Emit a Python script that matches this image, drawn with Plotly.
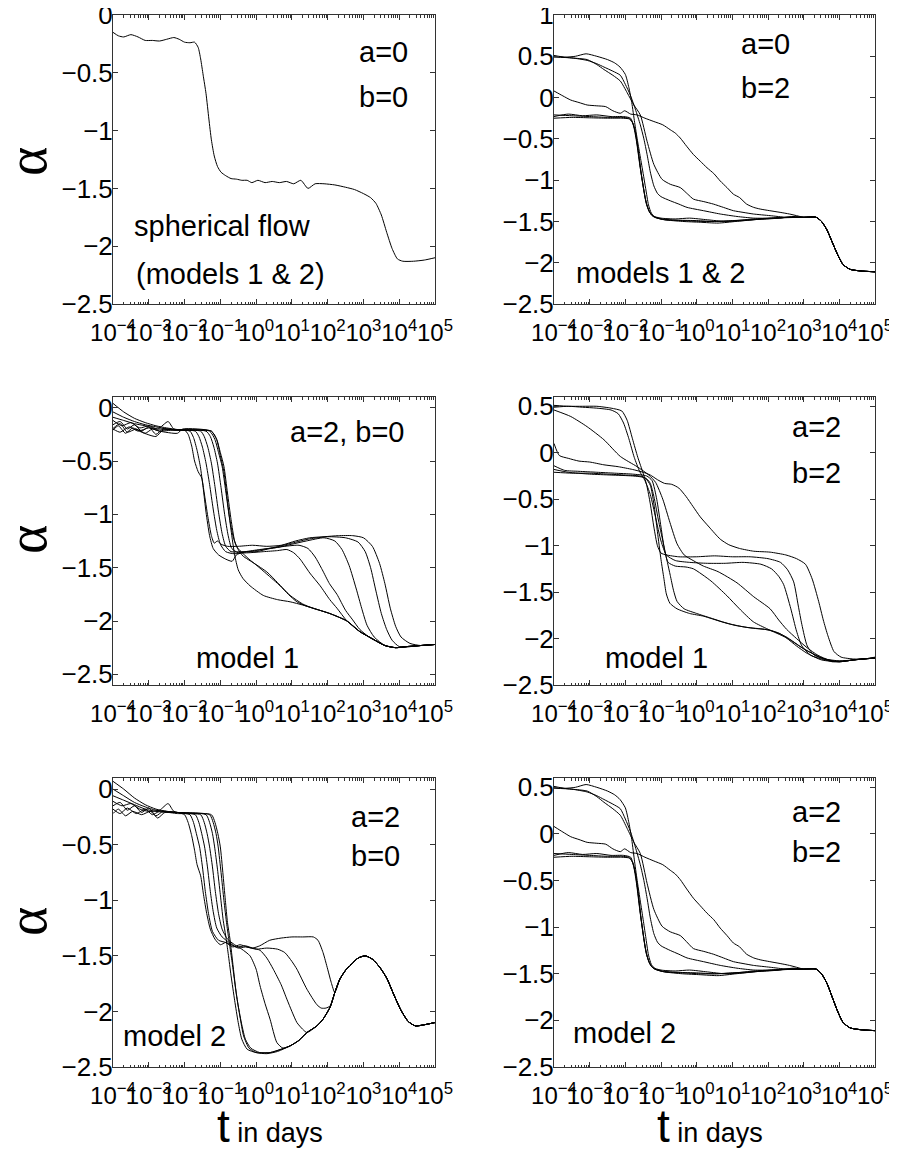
import plotly.graph_objects as go
from plotly.subplots import make_subplots

# ---------------- data: (log10 t, alpha) pairs ----------------
# Panel 1: a=0, b=0 (spherical flow)
p1_c1 = [(-4.0,-0.15),(-3.85,-0.18),(-3.7,-0.19),(-3.5,-0.17),(-3.3,-0.19),(-3.1,-0.22),(-2.9,-0.22),
         (-2.7,-0.225),(-2.5,-0.21),(-2.3,-0.195),(-2.15,-0.21),(-2.0,-0.235),(-1.85,-0.24),(-1.72,-0.235),
         (-1.62,-0.28),(-1.55,-0.38),(-1.48,-0.52),(-1.4,-0.68),(-1.32,-0.9),(-1.25,-1.08),(-1.17,-1.22),
         (-1.08,-1.31),(-0.98,-1.36),(-0.85,-1.39),(-0.7,-1.415),(-0.55,-1.42),(-0.4,-1.43),(-0.25,-1.43),
         (-0.12,-1.45),(0.05,-1.43),(0.25,-1.45),(0.45,-1.44),(0.65,-1.45),(0.85,-1.44),(1.05,-1.46),
         (1.25,-1.43),(1.45,-1.5),(1.65,-1.46),(1.9,-1.46),(2.2,-1.47),(2.5,-1.49),(2.75,-1.51),(3.0,-1.545),
         (3.2,-1.58),(3.35,-1.63),(3.5,-1.73),(3.65,-1.88),(3.8,-2.02),(3.95,-2.11),(4.1,-2.13),(4.4,-2.13),
         (4.7,-2.12),(5.0,-2.1)]

# Panel 2 (and panel 6): a=0 / a=2, b=2
p2_tail = [(3.0,-1.45),(3.35,-1.45),(3.5,-1.5),(3.65,-1.6),(3.8,-1.75),(3.95,-1.9),(4.1,-2.02),
           (4.3,-2.08),(4.6,-2.1),(5.0,-2.11)]
p2_b1 = [(-4.0,-0.21),(-3.5,-0.22),(-3.0,-0.23),(-2.5,-0.24),(-2.1,-0.24),(-1.9,-0.25),(-1.8,-0.3),
         (-1.72,-0.42),(-1.65,-0.62),(-1.58,-0.85),(-1.5,-1.08),(-1.42,-1.27),(-1.33,-1.38),(-1.22,-1.44),
         (-1.0,-1.47),(-0.5,-1.485),(0.0,-1.49),(0.5,-1.5),(1.0,-1.49),(1.5,-1.48),(2.0,-1.47),(2.5,-1.455)]
p2_b2 = [(-4.0,-0.25),(-3.5,-0.24),(-3.0,-0.245),(-2.5,-0.25),(-2.1,-0.25),(-1.88,-0.26),(-1.78,-0.32),
         (-1.7,-0.46),(-1.63,-0.66),(-1.56,-0.9),(-1.48,-1.12),(-1.4,-1.3),(-1.3,-1.4),(-1.18,-1.45),
         (-0.9,-1.48),(-0.4,-1.5),(0.1,-1.51),(0.6,-1.52),(1.1,-1.5),(1.6,-1.48),(2.1,-1.46),(2.6,-1.45)]
p2_b3 = [(-4.0,-0.23),(-3.6,-0.2),(-3.2,-0.22),(-2.8,-0.21),(-2.4,-0.23),(-2.05,-0.23),(-1.85,-0.25),
         (-1.76,-0.36),(-1.68,-0.55),(-1.6,-0.8),(-1.52,-1.02),(-1.44,-1.22),(-1.35,-1.36),(-1.25,-1.43),
         (-1.0,-1.46),(-0.6,-1.47),(-0.2,-1.46),(0.3,-1.48),(0.8,-1.5),(1.3,-1.49),(1.8,-1.47),(2.3,-1.46),
         (2.7,-1.44)]
p2_a1 = [(-4.0,0.51),(-3.7,0.49),(-3.4,0.5),(-3.1,0.53),(-2.8,0.5),(-2.5,0.46),(-2.3,0.42),(-2.15,0.37),
         (-2.0,0.28),(-1.9,0.12),(-1.82,-0.06),(-1.74,-0.3),(-1.66,-0.52),(-1.58,-0.72),(-1.5,-0.92),
         (-1.43,-1.1),(-1.35,-1.3),(-1.27,-1.4),(-1.15,-1.45),(-0.9,-1.48),(-0.4,-1.49),(0.1,-1.5),
         (0.6,-1.5),(1.1,-1.49),(1.6,-1.47),(2.1,-1.46),(2.6,-1.45)]
p2_a2 = [(-4.0,0.5),(-3.5,0.48),(-3.07,0.46),(-2.8,0.4),(-2.6,0.34),(-2.35,0.27),(-2.14,0.2),(-1.95,0.06),
         (-1.76,-0.09),(-1.58,-0.21),(-1.39,-0.53),(-1.2,-0.81),(-0.97,-0.99),(-0.74,-1.05),(-0.46,-1.09),
         (-0.25,-1.17),(-0.09,-1.23),(0.2,-1.26),(0.47,-1.29),(0.75,-1.33),(1.03,-1.37),(1.3,-1.39),
         (1.59,-1.41),(2.06,-1.43),(2.52,-1.45)]
p2_a3 = [(-4.0,0.49),(-3.5,0.48),(-3.07,0.45),(-2.8,0.41),(-2.6,0.37),(-2.35,0.32),(-2.14,0.27),(-2.0,0.16),
         (-1.86,0.03),(-1.72,-0.14),(-1.58,-0.33),(-1.48,-0.5),(-1.39,-0.69),(-1.3,-0.9),(-1.2,-1.07),
         (-1.1,-1.16),(-1.0,-1.2),(-0.74,-1.25),(-0.5,-1.29),(-0.27,-1.33),(0.19,-1.37),(0.66,-1.41),
         (1.13,-1.44),(1.6,-1.46),(2.1,-1.46),(2.6,-1.45)]
p2_c = [(-4.0,0.08),(-3.75,0.02),(-3.53,-0.03),(-3.3,-0.06),(-3.07,-0.09),(-2.8,-0.1),(-2.55,-0.11),
        (-2.35,-0.16),(-2.14,-0.19),(-2.02,-0.16),(-1.85,-0.2),(-1.67,-0.21),(-1.45,-0.25),(-1.2,-0.29),
        (-0.95,-0.33),(-0.74,-0.39),(-0.6,-0.43),(-0.46,-0.49),(-0.28,-0.59),(-0.09,-0.69),(0.1,-0.77),
        (0.29,-0.85),(0.48,-0.92),(0.66,-1.01),(0.85,-1.09),(1.03,-1.17),(1.2,-1.21),(1.4,-1.29),
        (1.6,-1.33),(1.78,-1.35),(2.05,-1.37),(2.34,-1.39),(2.6,-1.41),(2.8,-1.43)]

# Panel 3: a=2, b=0, model 1
p3_tail = [(2.06,-1.93),(2.54,-2.0),(2.9,-2.1),(3.27,-2.17),(3.6,-2.23),(3.9,-2.25),(4.2,-2.24),
           (4.6,-2.23),(5.0,-2.22)]
p3_c1 = [(-4.0,0.04),(-3.7,-0.04),(-3.4,-0.1),(-3.1,-0.14),(-2.8,-0.17),(-2.5,-0.19),(-2.2,-0.205),
         (-2.0,-0.21),(-1.9,-0.25),(-1.8,-0.36),(-1.72,-0.5),(-1.62,-0.6),(-1.52,-0.66),(-1.45,-0.8),
         (-1.35,-1.02),(-1.25,-1.2),(-1.17,-1.27),(-1.08,-1.25),(-0.98,-1.28),(-0.8,-1.3),(-0.5,-1.3),
         (-0.1,-1.29),(0.3,-1.3),(0.7,-1.29),(1.1,-1.25),(1.5,-1.22),(1.9,-1.21),(2.3,-1.2),(2.7,-1.2),
         (3.0,-1.22),(3.25,-1.3),(3.45,-1.46),(3.6,-1.65),(3.75,-1.88),(3.9,-2.05),(4.05,-2.15),
         (4.3,-2.21),(4.6,-2.23),(5.0,-2.22)]
p3_c2 = [(-4.0,-0.04),(-3.7,-0.09),(-3.4,-0.13),(-3.1,-0.16),(-2.8,-0.18),(-2.5,-0.2),(-2.2,-0.21),
         (-1.85,-0.22),(-1.75,-0.28),(-1.65,-0.4),(-1.56,-0.55),(-1.48,-0.75),(-1.4,-0.98),(-1.3,-1.2),
         (-1.2,-1.32),(-1.05,-1.38),(-0.85,-1.42),(-0.67,-1.44),(-0.55,-1.38),(-0.4,-1.36),(0.0,-1.34),
         (0.5,-1.31),(1.0,-1.27),(1.5,-1.23),(2.0,-1.21),(2.5,-1.22),(2.85,-1.26),(3.05,-1.35),(3.2,-1.5),
         (3.35,-1.72),(3.5,-1.93),(3.65,-2.08),(3.8,-2.18),(4.0,-2.24),(4.3,-2.24),(4.6,-2.23),(5.0,-2.22)]
p3_c3 = [(-4.0,-0.09),(-3.7,-0.12),(-3.4,-0.15),(-3.1,-0.17),(-2.8,-0.2),(-2.5,-0.2),(-2.2,-0.21),
         (-1.7,-0.22),(-1.6,-0.27),(-1.5,-0.37),(-1.4,-0.52),(-1.3,-0.72),(-1.2,-0.95),(-1.1,-1.15),
         (-1.0,-1.28),(-0.85,-1.35),(-0.6,-1.37),(-0.3,-1.35),(0.1,-1.33),(0.6,-1.31),(1.0,-1.28),
         (1.4,-1.25),(1.9,-1.22),(2.2,-1.25),(2.4,-1.33),(2.6,-1.48),(2.8,-1.7),(2.95,-1.88),(3.1,-2.04),
         (3.3,-2.15),(3.6,-2.23),(3.9,-2.25),(4.3,-2.24),(4.6,-2.23),(5.0,-2.22)]
p3_c4 = [(-4.0,-0.12),(-3.75,-0.17),(-3.5,-0.14),(-3.25,-0.19),(-3.0,-0.17),(-2.75,-0.2),(-2.46,-0.13),
         (-2.3,-0.2),(-2.0,-0.21),(-1.55,-0.22),(-1.45,-0.27),(-1.35,-0.37),(-1.25,-0.52),(-1.15,-0.74),
         (-1.05,-0.98),(-0.95,-1.18),(-0.85,-1.3),(-0.7,-1.35),(-0.4,-1.35),(0.0,-1.35),(0.4,-1.32),
         (0.8,-1.3),(1.2,-1.29),(1.45,-1.32),(1.65,-1.4),(1.85,-1.52),(2.05,-1.65),(2.26,-1.75),
         (2.5,-1.9),(2.7,-1.99),(2.9,-2.08),(3.2,-2.16),(3.6,-2.23),(3.9,-2.25),(4.2,-2.24),(4.6,-2.23),
         (5.0,-2.22)]
p3_c5 = [(-4.0,-0.16),(-3.8,-0.13),(-3.6,-0.2),(-3.4,-0.16),(-3.2,-0.22),(-3.0,-0.18),(-2.8,-0.25),
         (-2.6,-0.2),(-2.3,-0.21),(-1.4,-0.22),(-1.28,-0.27),(-1.18,-0.37),(-1.08,-0.52),(-0.98,-0.75),
         (-0.88,-1.0),(-0.78,-1.2),(-0.68,-1.32),(-0.5,-1.36),(-0.2,-1.36),(0.2,-1.35),(0.6,-1.34),
         (0.86,-1.33),(1.05,-1.36),(1.23,-1.42),(1.5,-1.55),(1.79,-1.67),(2.06,-1.8),(2.26,-1.88),
         (2.54,-2.0),(2.9,-2.1),(3.27,-2.17),(3.6,-2.23),(3.9,-2.25),(4.2,-2.24),(4.6,-2.23),(5.0,-2.22)]
p3_c6 = [(-4.0,-0.195),(-3.8,-0.15),(-3.6,-0.23),(-3.35,-0.2),(-3.1,-0.24),(-2.9,-0.2),(-2.7,-0.22),
         (-2.3,-0.21),(-1.3,-0.22),(-1.15,-0.3),(-1.05,-0.42),(-0.95,-0.55),(-0.85,-0.78),(-0.75,-1.02),
         (-0.65,-1.2),(-0.55,-1.3),(-0.45,-1.34),(-0.2,-1.42),(0.02,-1.48),(0.3,-1.56),(0.67,-1.67),
         (0.9,-1.75),(1.14,-1.82),(1.4,-1.86),(1.59,-1.88)] + p3_tail
p3_c7 = [(-4.0,-0.21),(-3.85,-0.17),(-3.65,-0.24),(-3.45,-0.19),(-3.2,-0.23),(-2.8,-0.27),(-2.6,-0.21),
         (-2.2,-0.21),(-1.25,-0.22),(-1.1,-0.3),(-1.0,-0.42),(-0.9,-0.55),(-0.8,-0.8),(-0.7,-1.05),
         (-0.6,-1.25),(-0.5,-1.33),(-0.37,-1.39),(-0.05,-1.46),(0.3,-1.54),(0.6,-1.64),(0.95,-1.76),
         (1.3,-1.84),(1.59,-1.88)] + p3_tail
p3_c8 = [(-4.0,-0.2),(-3.8,-0.23),(-3.55,-0.18),(-3.3,-0.22),(-3.0,-0.19),(-2.7,-0.22),(-2.2,-0.24),
         (-2.05,-0.2),(-1.25,-0.22),(-1.1,-0.3),(-1.0,-0.45),(-0.9,-0.6),(-0.8,-0.88),(-0.7,-1.15),
         (-0.6,-1.38),(-0.5,-1.52),(-0.37,-1.6),(-0.17,-1.67),(0.2,-1.76),(0.6,-1.8),(0.95,-1.82),
         (1.3,-1.85),(1.59,-1.88)] + p3_tail

# Panel 4: a=2, b=2, model 1
p4_k1 = [(-4.0,0.1),(-3.85,-0.03),(-3.6,-0.06),(-3.3,-0.09),(-3.0,-0.1),(-2.6,-0.13),(-2.2,-0.15),
         (-1.8,-0.18),(-1.5,-0.21),(-1.3,-0.24),(-1.1,-0.29),(-0.9,-0.33),(-0.7,-0.34),(-0.5,-0.38),
         (-0.3,-0.47),(-0.1,-0.58),(0.1,-0.69),(0.35,-0.8),(0.66,-0.93),(0.9,-0.99),(1.2,-1.03),
         (1.6,-1.06),(2.06,-1.07),(2.5,-1.1),(2.8,-1.14),(3.05,-1.2),(3.24,-1.36),(3.42,-1.6),
         (3.55,-1.8),(3.68,-1.97),(3.85,-2.14),(4.05,-2.2),(4.4,-2.22),(4.7,-2.22),(5.0,-2.2)]
p4_k2 = [(-4.0,0.51),(-3.6,0.5),(-3.2,0.5),(-2.8,0.5),(-2.4,0.48),(-2.1,0.45),(-1.95,0.35),(-1.8,0.15),
         (-1.65,-0.05),(-1.5,-0.22),(-1.4,-0.35),(-1.3,-0.55),(-1.2,-0.8),(-1.1,-1.0),(-1.0,-1.08),
         (-0.85,-1.1),(-0.5,-1.12),(0.0,-1.12),(0.5,-1.11),(1.0,-1.12),(1.5,-1.12),(2.0,-1.14),
         (2.35,-1.18),(2.55,-1.26),(2.72,-1.39),(2.85,-1.65),(2.95,-1.85),(3.1,-2.08),(3.3,-2.18),
         (3.6,-2.22),(4.0,-2.24),(4.4,-2.23),(5.0,-2.21)]
p4_k3 = [(-4.0,0.49),(-3.6,0.5),(-3.2,0.49),(-2.8,0.48),(-2.4,0.46),(-2.2,0.42),(-2.05,0.32),(-1.9,0.15),
         (-1.75,-0.05),(-1.6,-0.2),(-1.45,-0.3),(-1.3,-0.45),(-1.15,-0.7),(-1.0,-0.95),(-0.85,-1.1),
         (-0.6,-1.16),(-0.2,-1.18),(0.3,-1.19),(0.8,-1.19),(1.3,-1.18),(1.8,-1.2),(2.1,-1.25),(2.3,-1.33),
         (2.44,-1.42),(2.64,-1.68),(2.8,-1.92),(2.95,-2.08),(3.2,-2.18),(3.6,-2.23),(4.0,-2.25),
         (4.4,-2.23),(5.0,-2.21)]
p4_k4 = [(-4.0,0.46),(-3.53,0.39),(-3.07,0.28),(-2.6,0.14),(-2.14,-0.04),(-1.67,-0.15),(-1.34,-0.24),
         (-1.15,-0.32),(-0.95,-0.5),(-0.75,-0.75),(-0.55,-0.98),(-0.35,-1.1),(-0.1,-1.16),(0.19,-1.22),
         (0.6,-1.28),(1.13,-1.4),(1.6,-1.55),(2.06,-1.68),(2.3,-1.8),(2.52,-1.9),(2.8,-2.0),(3.1,-2.1),
         (3.4,-2.18),(3.7,-2.23),(4.0,-2.25),(4.4,-2.23),(5.0,-2.21)]
p4_k5 = [(-4.0,-0.14),(-3.7,-0.19),(-3.3,-0.2),(-2.8,-0.21),(-2.3,-0.22),(-1.8,-0.23),(-1.4,-0.25),
         (-1.25,-0.3),(-1.12,-0.5),(-1.0,-0.8),(-0.9,-1.05),(-0.8,-1.18),(-0.6,-1.22),(-0.3,-1.23),
         (-0.09,-1.25),(0.4,-1.38),(0.85,-1.54),(1.2,-1.68),(1.59,-1.82),(2.0,-1.9),(2.5,-1.99),
         (2.8,-2.08),(3.1,-2.16),(3.5,-2.23),(4.0,-2.25),(4.4,-2.23),(5.0,-2.21)]
p4_k6 = [(-4.0,-0.18),(-3.6,-0.21),(-3.0,-0.23),(-2.4,-0.24),(-1.8,-0.25),(-1.45,-0.27),(-1.3,-0.35),
         (-1.2,-0.55),(-1.1,-0.85),(-1.0,-1.15),(-0.92,-1.35),(-0.85,-1.52),(-0.75,-1.62),(-0.55,-1.68),
         (-0.2,-1.73),(0.2,-1.76),(0.7,-1.82),(1.1,-1.86),(1.6,-1.89),(2.06,-1.91),(2.5,-1.98),
         (3.0,-2.11),(3.45,-2.2),(3.8,-2.25),(4.2,-2.24),(4.6,-2.22),(5.0,-2.21)]
p4_k7 = [(-4.0,-0.21),(-3.5,-0.22),(-3.0,-0.22),(-2.5,-0.23),(-2.0,-0.24),(-1.6,-0.25),(-1.4,-0.28),
         (-1.3,-0.33),(-1.2,-0.47),(-1.06,-0.75),(-0.92,-1.0),(-0.82,-1.18),(-0.74,-1.32),(-0.65,-1.48),
         (-0.55,-1.6),(-0.35,-1.68),(0.0,-1.73),(0.4,-1.78),(0.9,-1.84),(1.4,-1.88),(1.9,-1.9),
         (2.3,-1.94),(2.6,-2.01),(3.0,-2.11),(3.45,-2.2),(3.8,-2.24),(4.2,-2.24),(4.6,-2.22),(5.0,-2.21)]

# Panel 5: a=2, b=0, model 2
p5_tail = [(2.2,-1.83),(2.34,-1.71),(2.5,-1.63),(2.65,-1.58),(2.85,-1.52),(3.05,-1.5),(3.25,-1.53),
           (3.45,-1.6),(3.65,-1.7),(3.85,-1.85),(4.05,-1.99),(4.25,-2.09),(4.45,-2.13),(4.7,-2.12),
           (5.0,-2.1)]
p5_low = [(0.95,-2.31),(1.2,-2.26),(1.42,-2.19),(1.7,-2.13),(1.87,-2.07),(2.07,-1.96)]
p5_m1 = [(-4.0,0.07),(-3.7,0.0),(-3.4,-0.08),(-3.1,-0.14),(-2.8,-0.18),(-2.5,-0.2),(-2.2,-0.21),
         (-2.0,-0.23),(-1.9,-0.3),(-1.8,-0.42),(-1.72,-0.55),(-1.65,-0.68),(-1.55,-0.78),(-1.47,-0.95),
         (-1.38,-1.12),(-1.28,-1.26),(-1.15,-1.35),(-1.0,-1.4),(-0.85,-1.38),(-0.7,-1.4),(-0.5,-1.43),
         (-0.3,-1.42),(-0.1,-1.43),(0.1,-1.41),(0.38,-1.36),(0.7,-1.34),(1.0,-1.33),(1.3,-1.33),
         (1.6,-1.33),(1.73,-1.36),(1.87,-1.47),(2.0,-1.62),(2.1,-1.74)] + p5_tail
p5_m2 = [(-4.0,0.0),(-3.7,-0.06),(-3.4,-0.12),(-3.1,-0.16),(-2.8,-0.19),(-2.5,-0.2),(-2.2,-0.21),
         (-1.85,-0.23),(-1.75,-0.3),(-1.67,-0.4),(-1.58,-0.52),(-1.5,-0.7),(-1.42,-0.92),(-1.33,-1.12),
         (-1.22,-1.28),(-1.05,-1.36),(-0.85,-1.38),(-0.65,-1.42),(-0.45,-1.4),(-0.25,-1.42),(0.0,-1.44),
         (0.3,-1.43),(0.6,-1.44),(0.8,-1.47),(1.0,-1.55),(1.14,-1.62),(1.42,-1.8),(1.7,-1.94),
         (1.82,-1.97),(1.95,-1.97),(2.07,-1.95)] + p5_tail
p5_m3 = [(-4.0,-0.06),(-3.7,-0.1),(-3.4,-0.14),(-3.1,-0.18),(-2.8,-0.2),(-2.5,-0.21),(-2.2,-0.21),
         (-1.7,-0.23),(-1.6,-0.3),(-1.52,-0.4),(-1.44,-0.52),(-1.36,-0.7),(-1.28,-0.92),(-1.2,-1.1),
         (-1.1,-1.25),(-0.95,-1.33),(-0.75,-1.38),(-0.55,-1.42),(-0.3,-1.41),(-0.1,-1.43),(0.11,-1.45),
         (0.3,-1.52),(0.48,-1.62),(0.7,-1.76),(0.86,-1.89),(1.0,-2.0),(1.14,-2.1),(1.3,-2.16),
         (1.42,-2.19),(1.7,-2.13),(1.87,-2.07),(2.07,-1.96)] + p5_tail
p5_m4 = [(-4.0,-0.11),(-3.75,-0.15),(-3.5,-0.13),(-3.25,-0.18),(-3.0,-0.2),(-2.7,-0.19),(-2.46,-0.13),
         (-2.3,-0.2),(-2.0,-0.22),(-1.55,-0.23),(-1.45,-0.3),(-1.37,-0.4),(-1.3,-0.52),(-1.22,-0.7),
         (-1.14,-0.92),(-1.05,-1.12),(-0.95,-1.26),(-0.8,-1.35),(-0.6,-1.4),(-0.4,-1.44),(-0.17,-1.5),
         (0.0,-1.62),(0.11,-1.77),(0.25,-1.93),(0.39,-2.07),(0.58,-2.28),(0.75,-2.33)] + p5_low + p5_tail
p5_m5 = [(-4.0,-0.15),(-3.8,-0.12),(-3.6,-0.19),(-3.4,-0.15),(-3.2,-0.21),(-3.0,-0.17),(-2.8,-0.24),
         (-2.6,-0.2),(-2.3,-0.21),(-1.4,-0.23),(-1.3,-0.3),(-1.22,-0.4),(-1.16,-0.52),(-1.08,-0.72),
         (-1.0,-0.95),(-0.92,-1.18),(-0.85,-1.32),(-0.78,-1.48),(-0.7,-1.68),(-0.6,-1.9),(-0.5,-2.1),
         (-0.4,-2.25),(-0.25,-2.34),(0.0,-2.37),(0.39,-2.37),(0.7,-2.34)] + p5_low + p5_tail
p5_m6 = [(-4.0,-0.18),(-3.8,-0.22),(-3.6,-0.17),(-3.35,-0.22),(-3.1,-0.18),(-2.9,-0.23),(-2.7,-0.2),
         (-2.3,-0.21),(-1.3,-0.23),(-1.2,-0.3),(-1.12,-0.4),(-1.06,-0.52),(-0.98,-0.75),(-0.9,-1.0),
         (-0.82,-1.22),(-0.75,-1.38),(-0.67,-1.56),(-0.58,-1.78),(-0.5,-1.95),(-0.4,-2.12),(-0.3,-2.25),
         (-0.15,-2.33),(0.1,-2.37),(0.4,-2.37),(0.7,-2.34)] + p5_low + p5_tail
p5_m7 = [(-4.0,-0.22),(-3.85,-0.18),(-3.65,-0.24),(-3.45,-0.2),(-3.2,-0.23),(-2.95,-0.2),(-2.75,-0.26),
         (-2.55,-0.21),(-2.2,-0.22),(-1.25,-0.23),(-1.15,-0.3),(-1.07,-0.4),(-1.0,-0.52),(-0.93,-0.75),
         (-0.86,-1.0),(-0.8,-1.2),(-0.73,-1.35),(-0.64,-1.6),(-0.55,-1.85),(-0.45,-2.05),(-0.35,-2.22),
         (-0.2,-2.33),(0.0,-2.37),(0.3,-2.38),(0.6,-2.36)] + p5_low + p5_tail

P1_CURVES = [p1_c1]
P2_CURVES = [p2_b1 + p2_tail, p2_b2 + p2_tail, p2_b3 + p2_tail, p2_a1 + p2_tail,
             p2_a2 + p2_tail, p2_a3 + p2_tail, p2_c + p2_tail]
P3_CURVES = [p3_c1, p3_c2, p3_c3, p3_c4, p3_c5, p3_c6, p3_c7, p3_c8]
P4_CURVES = [p4_k1, p4_k2, p4_k3, p4_k4, p4_k5, p4_k6, p4_k7]
P5_CURVES = [p5_m1, p5_m2, p5_m3, p5_m4, p5_m5, p5_m6, p5_m7]
P6_CURVES = P2_CURVES

# tick labels
X_EXPONENTS = [-4, -3, -2, -1, 0, 1, 2, 3, 4, 5]
Y_TICKS_A = [0, -0.5, -1, -1.5, -2, -2.5]
Y_TICKS_B = [1, 0.5, 0, -0.5, -1, -1.5, -2, -2.5]
Y_TICKS_C = [0.5, 0, -0.5, -1, -1.5, -2, -2.5]

# panel annotations (text, x px, y px) in page pixels
LABELS = [
    ("a=0", 383, 52), ("b=0", 383, 97), ("spherical flow", 222, 226), ("(models 1 &amp; 2)", 230, 274),
    ("a=0", 765, 44), ("b=2", 765, 88), ("models 1 &amp; 2", 660, 273),
    ("a=2, b=0", 347, 432), ("model 1", 247, 658),
    ("a=2", 816, 427), ("b=2", 816, 473), ("model 1", 656, 658),
    ("a=2", 375, 817), ("b=0", 375, 856), ("model 2", 174, 1036),
    ("a=2", 816, 812), ("b=2", 816, 852), ("model 2", 624, 1033),
]

# ---------------- figure ----------------
PAGE_W, PAGE_H = 897, 1150
OFF = 8                       # default page margin around the plot div
W, H = PAGE_W - OFF, PAGE_H - OFF
FONT = "Liberation Sans, Arial, Helvetica, sans-serif"

def px_x(px):
    return (px - OFF) / W

def px_y(py):
    return 1 - (py - OFF) / H

fig = make_subplots(rows=3, cols=2)

panels = [
    (1, 1, P1_CURVES, [-2.5, 0], Y_TICKS_A),
    (1, 2, P2_CURVES, [-2.5, 1], Y_TICKS_B),
    (2, 1, P3_CURVES, [-2.6, 0.1], Y_TICKS_A),
    (2, 2, P4_CURVES, [-2.5, 0.6], Y_TICKS_C),
    (3, 1, P5_CURVES, [-2.5, 0.1], Y_TICKS_A),
    (3, 2, P6_CURVES, [-2.5, 0.6], Y_TICKS_C),
]

xdom = {1: [px_x(113), px_x(435)], 2: [px_x(554), px_x(875)]}
ydom = {1: [px_y(304), px_y(15)], 2: [px_y(685), px_y(397)], 3: [px_y(1067), px_y(778)]}

def fmt(v):
    return ("%g" % v).replace("-", "\u2212")

def xlab(e):
    return "10<sup>%s</sup>" % (str(e).replace("-", "\u2212"))

major_x = [10.0 ** e for e in X_EXPONENTS]
minor_x = [m * 10.0 ** e for e in X_EXPONENTS[:-1] for m in range(2, 10)]

FRAME = "#333"
for r, c, curves, yr, yt in panels:
    for cv in curves:
        fig.add_trace(go.Scatter(
            x=[10.0 ** p[0] for p in cv], y=[p[1] for p in cv], mode="lines",
            line=dict(color="black", width=1, shape="spline", smoothing=0.6),
            showlegend=False, hoverinfo="skip"), row=r, col=c)
    fig.update_xaxes(type="log", range=[-4, 5], domain=xdom[c], automargin=False,
                     tickmode="array", tickvals=major_x, ticktext=[xlab(e) for e in X_EXPONENTS],
                     ticks="inside", ticklen=5, tickcolor=FRAME, tickangle=0, ticklabelstandoff=7,
                     ticklabeloverflow="allow",
                     minor=dict(tickmode="array", tickvals=minor_x, ticks="inside", ticklen=2.5,
                                tickcolor=FRAME, showgrid=False),
                     showline=True, linecolor=FRAME, linewidth=1, mirror="ticks",
                     showgrid=False, zeroline=False,
                     tickfont=dict(family=FONT, size=24, color="black"), row=r, col=c)
    fig.update_yaxes(range=yr, domain=ydom[r], automargin=False, tickmode="array", tickvals=yt,
                     ticktext=[fmt(v) for v in yt], ticks="inside", ticklen=5, tickcolor=FRAME,
                     ticklabeloverflow="allow", ticklabelstandoff=-6,
                     showline=True, linecolor=FRAME, linewidth=1, mirror="ticks",
                     showgrid=False, zeroline=False,
                     tickfont=dict(family=FONT, size=26, color="black"), row=r, col=c)

ann = []
for txt, px, py in LABELS:
    ann.append(dict(text=txt, x=px_x(px), y=px_y(py), xref="paper", yref="paper",
                    xanchor="center", yanchor="middle", showarrow=False,
                    font=dict(family=FONT, size=29, color="black")))
for py in (162, 540, 922):
    ann.append(dict(text="\u03b1", x=px_x(27), y=px_y(py), xref="paper", yref="paper",
                    xanchor="center", yanchor="middle", showarrow=False, textangle=-90,
                    font=dict(family="Liberation Serif, Times New Roman, serif", size=56, color="black")))
for px in (270, 710):
    ann.append(dict(text="<span style='font-size:46px'>t</span> in days", x=px_x(px), y=px_y(1126),
                    xref="paper", yref="paper", xanchor="center", yanchor="middle", showarrow=False,
                    font=dict(family=FONT, size=27, color="black")))

fig.update_layout(width=W, height=H, margin=dict(l=0, r=0, t=0, b=0, autoexpand=False),
                  paper_bgcolor="white", plot_bgcolor="white", annotations=ann,
                  font=dict(family=FONT, color="black"))
fig.write_html("out.html")
